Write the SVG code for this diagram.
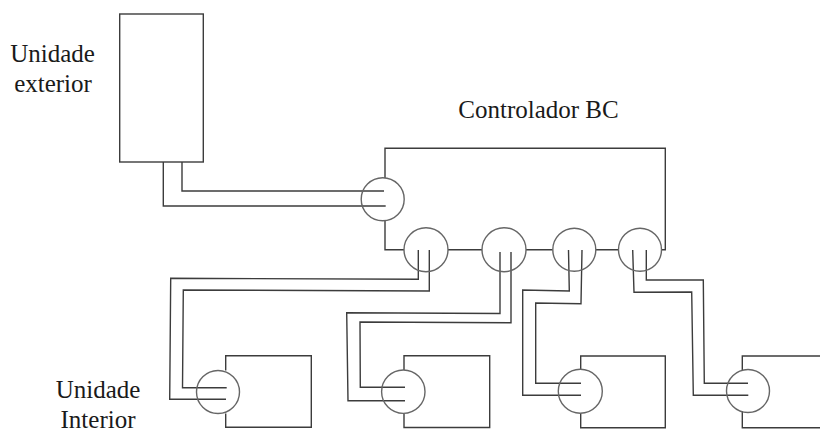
<svg xmlns="http://www.w3.org/2000/svg" width="820" height="430" viewBox="0 0 820 430">
<style>
.l{fill:none;stroke:#3c3c3c;stroke-width:1.4}
.c{fill:none;stroke:#666;stroke-width:1.4}
.t{font-family:"Liberation Serif","Times New Roman",serif;font-size:25px;fill:#1a1a1a;text-anchor:middle}
</style>
<rect width="820" height="430" fill="#fff"/>
<g id="connectors">
<path class="l" d="M163.3 162V206H385.7"/>
<path class="l" d="M182 162V191H384"/>
<path class="l" d="M418.3 250V279.3L170.7 278.3L169.7 399.3H226"/>
<path class="l" d="M429.3 250V291L183.3 290L182.5 387.7H226.7"/>
<path class="l" d="M500 252V313.5L346.7 312.7L348 400.7H405"/>
<path class="l" d="M511 252V322.7L360 322L360.3 387.3H405"/>
<path class="l" d="M568.5 250L569.3 291L522.7 290V395.3H581"/>
<path class="l" d="M582 250L581 303.7L535.7 303V383.3H581"/>
<path class="l" d="M632.7 250L634 292.3L691.7 292L693.3 395.3H748.3"/>
<path class="l" d="M646.3 250V280H703.3L704.3 383.3H748"/>
</g>
<g id="outdoor-unit"><rect class="l" x="119.7" y="14" width="83.6" height="148"/></g>
<g id="bc-controller">
<path class="l" d="M385 178V148.3H665.3V249.7H661.5M619 249.7H596M552.5 249.7H526M482 249.7H448M404 249.7H385V220.5"/>
<circle class="c" cx="382.7" cy="199.3" r="21.5"/>
<circle class="c" cx="426" cy="249.7" r="22"/>
<circle class="c" cx="504" cy="249.7" r="22"/>
<circle class="c" cx="574.3" cy="249.7" r="21.5"/>
<circle class="c" cx="640" cy="249.7" r="21.5"/>
</g>
<g id="indoor-1">
<path class="l" d="M225.7 370.5V355.7H311.3V427.3H225.7V413.5"/>
<circle class="c" cx="218" cy="392" r="21.5"/>
</g>
<g id="indoor-2">
<path class="l" d="M404 370V355.7H489.7V427.5H404V413.5"/>
<circle class="c" cx="403.3" cy="391.7" r="21.7"/>
</g>
<g id="indoor-3">
<path class="l" d="M580.7 369.5V356H665.3V427.7H580.7V413.5"/>
<circle class="c" cx="580.3" cy="391.3" r="22"/>
</g>
<g id="indoor-4">
<path class="l" d="M742.3 371V356H821M821 427.7H742.3V411"/>
<circle class="c" cx="748" cy="391" r="21.5"/>
</g>
<g id="labels">
<text class="t" x="52.5" y="61.5">Unidade</text>
<text class="t" x="53" y="92">exterior</text>
<text class="t" x="538.5" y="117.5">Controlador BC</text>
<text class="t" x="98" y="398">Unidade</text>
<text class="t" x="98" y="428">Interior</text>
</g>
</svg>
